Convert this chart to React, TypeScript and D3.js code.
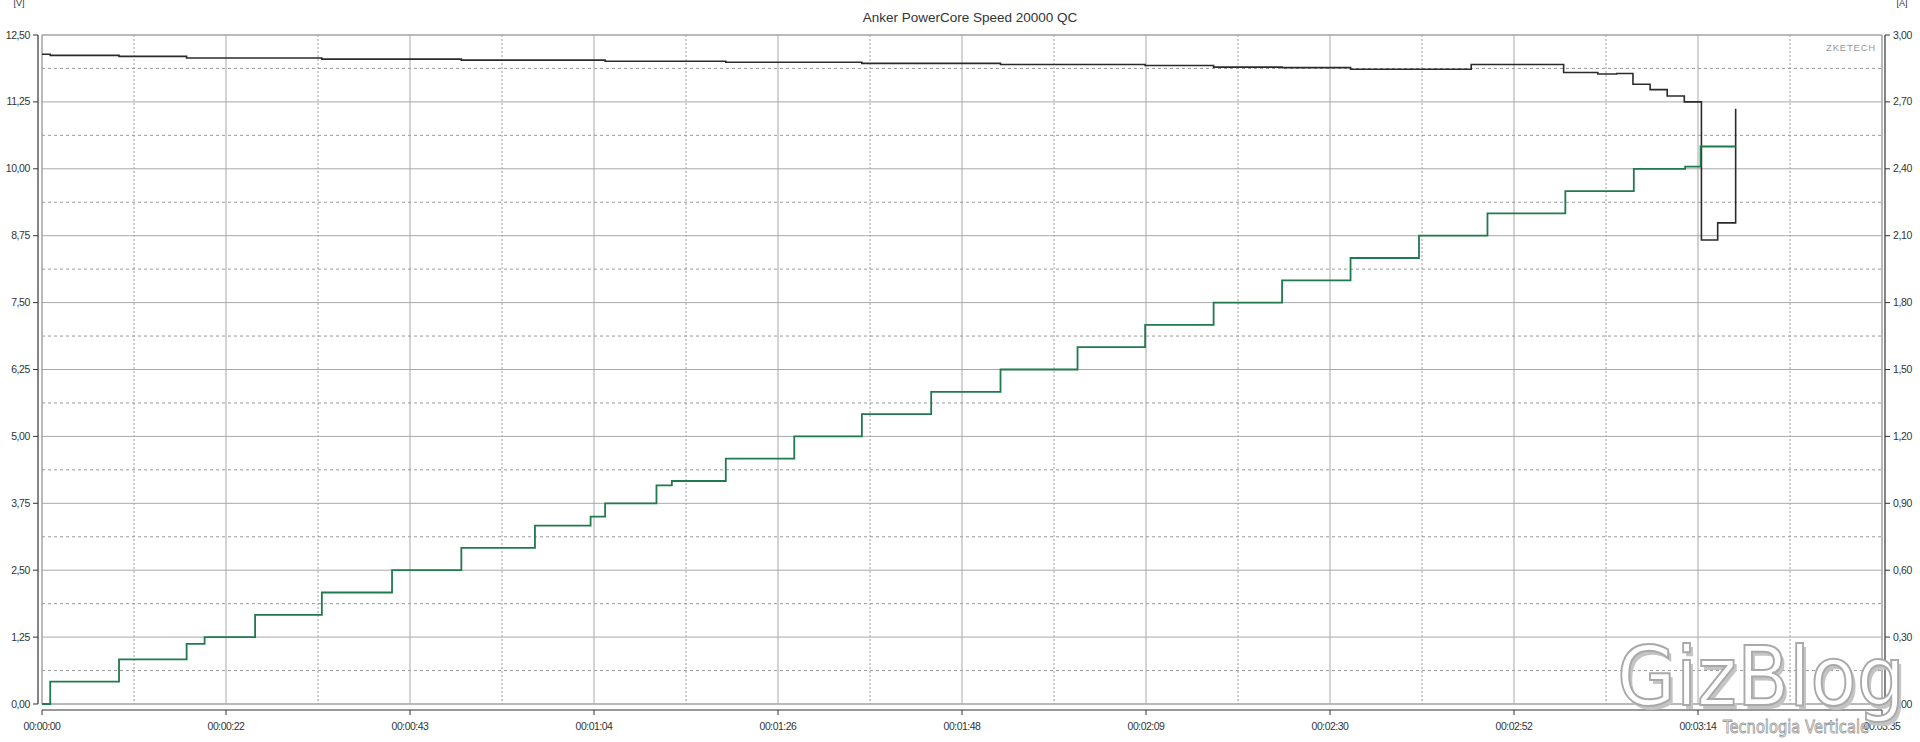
import React from 'react';
import * as d3 from 'd3';

// step data (time in seconds)
const voltTimes = [0, 0.96, 9, 16.9, 32.7, 49, 65.8, 79.9, 95.8, 112, 128.9, 136.9, 144.9, 152.9, 167, 177.8, 181.8, 184, 185.9, 187.9, 189.9, 191.9, 193.9, 195.8, 197.9, 197.9];
const voltValues = [12.14, 12.12, 12.1, 12.07, 12.05, 12.03, 12.01, 11.99, 11.97, 11.95, 11.93, 11.9, 11.89, 11.86, 11.95, 11.8, 11.77, 11.78, 11.58, 11.48, 11.36, 11.25, 8.67, 8.99, 8.99, 11.12];

const ampTimes = [0, 0.96, 9, 16.9, 19, 24.9, 32.7, 40.9, 49, 57.6, 64.1, 65.8, 71.8, 73.6, 79.9, 87.9, 95.8, 103.9, 112, 121, 128.9, 136.9, 144.9, 152.9, 160.9, 168.9, 178, 186, 192, 193.8, 197.9];
const ampValues = [0, 0.1, 0.2, 0.27, 0.3, 0.4, 0.5, 0.6, 0.7, 0.8, 0.84, 0.9, 0.98, 1.0, 1.1, 1.2, 1.3, 1.4, 1.5, 1.6, 1.7, 1.8, 1.9, 2.0, 2.1, 2.2, 2.3, 2.4, 2.41, 2.5, 2.5];

const timeLabels = ['00:00:00', '00:00:22', '00:00:43', '00:01:04', '00:01:26', '00:01:48', '00:02:09', '00:02:30', '00:02:52', '00:03:14', '00:03:35'];
const voltTicks = [0, 1.25, 2.5, 3.75, 5, 6.25, 7.5, 8.75, 10, 11.25, 12.5];
const ampTicks = [0, 0.3, 0.6, 0.9, 1.2, 1.5, 1.8, 2.1, 2.4, 2.7, 3.0];

const W = 1920;
const H = 742;
const left = 42, right = 1882, top = 35, bottom = 704;
const tMax = 215;
const font = '"Liberation Sans", Arial, sans-serif';

const fmt = (v: number) => v.toFixed(2).replace('.', ',');

const App: React.FC = () => {
  const x = d3.scaleLinear().domain([0, tMax]).range([left, right]);
  const yV = d3.scaleLinear().domain([0, 12.5]).range([bottom, top]);
  const yA = d3.scaleLinear().domain([0, 3]).range([bottom, top]);

  const step = tMax / (timeLabels.length - 1);
  const majorT = timeLabels.map((_, i) => i * step);
  const minorT = majorT.slice(0, -1).map(t => t + step / 2);
  const minorV = voltTicks.slice(0, -1).map(v => v + 1.25 / 2);

  const voltLine = d3.line<number>()
    .x((_, i) => x(voltTimes[i]))
    .y(d => yV(d))
    .curve(d3.curveStepAfter);
  const ampLine = d3.line<number>()
    .x((_, i) => x(ampTimes[i]))
    .y(d => yA(d))
    .curve(d3.curveStepAfter);

  return (
    <svg width={W} height={H} style={{ position: 'fixed', left: 0, top: 0, background: '#fff' }} fontFamily={font}>
      <rect x={0} y={0} width={W} height={H} fill="#fff" />

      {/* grid */}
      {minorV.map(v => (
        <line key={'hv' + v} x1={left} x2={right} y1={yV(v)} y2={yV(v)} stroke="#9a9a9a" strokeDasharray="3,3" />
      ))}
      {minorT.map(t => (
        <line key={'vt' + t} x1={x(t)} x2={x(t)} y1={top} y2={bottom} stroke="#9a9a9a" strokeDasharray="2,2" />
      ))}
      {voltTicks.map(v => (
        <line key={'hm' + v} x1={left} x2={right} y1={yV(v)} y2={yV(v)} stroke="#a8a8a8" />
      ))}
      {majorT.map(t => (
        <line key={'vm' + t} x1={x(t)} x2={x(t)} y1={top} y2={bottom} stroke="#a8a8a8" />
      ))}
      <rect x={left} y={top} width={right - left} height={bottom - top} fill="none" stroke="#a0a0a0" />

      {/* series */}
      <path d={voltLine(voltValues) || ''} fill="none" stroke="#2b2b2b" strokeWidth={1.6} />
      <path d={ampLine(ampValues) || ''} fill="none" stroke="#1f7a4d" strokeWidth={1.8} />

      {/* left axis */}
      <line x1={38} x2={38} y1={top} y2={bottom} stroke="#333" strokeWidth={1.2} />
      {voltTicks.map(v => (
        <g key={'lt' + v}>
          <line x1={33} x2={38} y1={yV(v)} y2={yV(v)} stroke="#333" />
          <text x={30} y={yV(v) + 3.5} fontSize={10.5} textAnchor="end" fill="#333" letterSpacing={-0.4}>{fmt(v)}</text>
        </g>
      ))}
      <text x={19} y={6} fontSize={9} textAnchor="middle" fill="#333">[V]</text>

      {/* right axis */}
      <line x1={1885} x2={1885} y1={top} y2={bottom} stroke="#333" strokeWidth={1.2} />
      {ampTicks.map(a => (
        <g key={'rt' + a}>
          <line x1={1885} x2={1890} y1={yA(a)} y2={yA(a)} stroke="#333" />
          <text x={1893} y={yA(a) + 3.5} fontSize={10.5} fill="#333" letterSpacing={-0.4}>{fmt(a)}</text>
        </g>
      ))}
      <text x={1902} y={6} fontSize={9} textAnchor="middle" fill="#333">[A]</text>

      {/* bottom axis */}
      <line x1={left} x2={right} y1={710} y2={710} stroke="#333" strokeWidth={1.2} />
      {majorT.map((t, i) => (
        <g key={'bt' + t}>
          <line x1={x(t)} x2={x(t)} y1={710} y2={715} stroke="#333" />
          <text x={x(t)} y={730} fontSize={10.5} textAnchor="middle" fill="#333" letterSpacing={-0.5}>{timeLabels[i]}</text>
        </g>
      ))}

      {/* title + brand */}
      <text x={(left + right) / 2 + 8} y={22} fontSize={13.5} textAnchor="middle" fill="#333">Anker PowerCore Speed 20000 QC</text>
      <text x={1876} y={51} fontSize={9.5} textAnchor="end" fill="#999" letterSpacing={0.8}>ZKETECH</text>

      {/* watermark */}
      <g fontFamily='"DejaVu Sans", sans-serif'>
        <text x={1620} y={709} fontSize={82} fill="#c4c4c4" textLength={288} lengthAdjust="spacingAndGlyphs">GizBlog</text>
        <text x={1617} y={705} fontSize={82} fill="#fff" stroke="#a9a9a9" strokeWidth={2} textLength={288} lengthAdjust="spacingAndGlyphs">GizBlog</text>
        <text x={1723} y={733} fontSize={18} fill="#fff" stroke="#9a9a9a" strokeWidth={0.9} textLength={146} lengthAdjust="spacingAndGlyphs">Tecnologia Verticale</text>
      </g>
    </svg>
  );
};

export default App;
